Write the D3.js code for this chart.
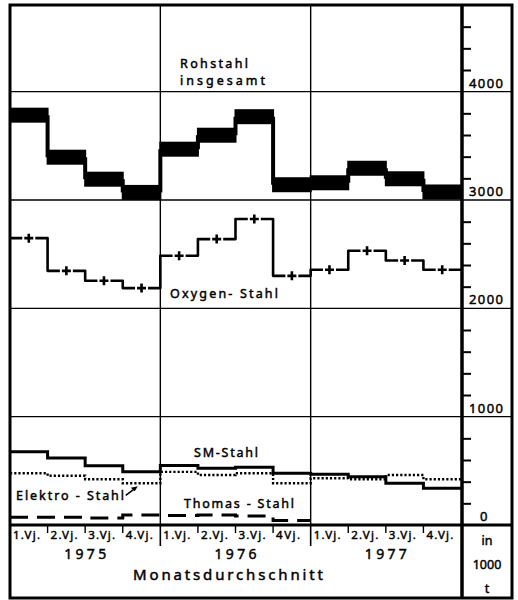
<!DOCTYPE html>
<html>
<head>
<meta charset="utf-8">
<script src="https://cdn.jsdelivr.net/npm/d3@7"></script>
<style>
html,body{margin:0;padding:0;background:#fff;}
svg{display:block;font-family:"Noto Sans","DejaVu Sans",sans-serif;}
svg text{stroke:#000;stroke-width:0.45px;}
</style>
</head>
<body>
<svg id="chart" width="518" height="600"></svg>
<script>
// ---- data ----
const years = ["1975", "1976", "1977"];
const quarterLabels = ["1.Vj.", "2.Vj.", "3.Vj.", "4.Vj.", "1.Vj.", "2.Vj.", "3.Vj.", "4Vj.", "1.Vj.", "2.Vj.", "3.Vj.", "4.Vj."];
const rohstahl = [3783, 3395, 3192, 3070, 3469, 3598, 3769, 3141, 3159, 3293, 3196, 3074];
const oxygen   = [2648, 2346, 2254, 2187, 2485, 2639, 2824, 2300, 2356, 2531, 2442, 2356];
const smStahl  = [677, 619, 548, 492, 550, 524, 533, 478, 468, 446, 385, 339];
const elektro  = [478, 455, 422, 385, 490, 462, 478, 385, 431, 422, 462, 422];
const thomas   = [71, 71, 65, 92, 88, 92, 83, 42];
const yLabelTicks = [0, 1000, 2000, 3000, 4000];
const yMinorTicks = [200, 400, 600, 800, 1200, 1400, 1600, 1800, 2200, 2400, 2600, 2800, 3200, 3400, 3600, 3800, 4200, 4400, 4600];
const unitLines = ["in", "1000", "t"];
const xTitle = "Monatsdurchschnitt";

// ---- layout ----
const L = 10, R = 461, T = 5, B = 525, RIGHT = 512, BOTTOM = 598;
const svg = d3.select("#chart");
const x = d3.scaleLinear().domain([0, 12]).range([L, R]);
const y = d3.scaleLinear().domain([0, 4800]).range([B, T]);
const cx = i => (x(i) + x(i + 1)) / 2;

// grid
const grid = svg.append("g").attr("stroke", "#000").attr("stroke-width", 1.4);
grid.selectAll("line.h").data(yLabelTicks.filter(v => v > 0)).join("line")
  .attr("x1", L).attr("x2", RIGHT).attr("y1", d => y(d)).attr("y2", d => y(d));
grid.selectAll("line.v").data([4, 8]).join("line")
  .attr("x1", d => x(d)).attr("x2", d => x(d)).attr("y1", T).attr("y2", B);

// minor ticks on right axis
const axis = svg.append("g").attr("transform", `translate(${R},0)`)
  .call(d3.axisRight(y).tickValues(yMinorTicks).tickSize(10).tickFormat(""));
axis.select(".domain").remove();
axis.selectAll(".tick line").attr("stroke", "#000").attr("stroke-width", 2);

// y labels
svg.append("g").selectAll("text").data(yLabelTicks).join("text")
  .attr("x", d => d ? 469 : 480).attr("y", d => y(d) - 4)
  .attr("font-size", 13)
  .attr("textLength", d => d ? 34 : 8).attr("lengthAdjust", "spacing")
  .text(d => d);

// frame
const frame = svg.append("g").attr("stroke", "#000").attr("fill", "none");
frame.append("rect").attr("x", L).attr("y", T).attr("width", RIGHT - L).attr("height", BOTTOM - T).attr("stroke-width", 3);
frame.append("line").attr("x1", R + 1).attr("x2", R + 1).attr("y1", T).attr("y2", BOTTOM).attr("stroke-width", 3.5);
frame.append("line").attr("x1", L).attr("x2", RIGHT).attr("y1", B).attr("y2", B).attr("stroke-width", 3);

// ---- Rohstahl band ----
const rg = svg.append("g");
rg.selectAll("rect").data(rohstahl).join("rect")
  .attr("x", (d, i) => x(i) - 1).attr("width", (d, i) => x(i + 1) - x(i) + 2)
  .attr("y", d => y(d) - 7.5).attr("height", 15).attr("fill", "#000");
rg.selectAll("line").data(rohstahl.slice(1)).join("line")
  .attr("x1", (d, i) => x(i + 1)).attr("x2", (d, i) => x(i + 1))
  .attr("y1", (d, i) => y(rohstahl[i])).attr("y2", d => y(d))
  .attr("stroke", "#000").attr("stroke-width", 4);

// ---- Oxygen ----
const gap = 6.5;
let op = `M${x(0)},${y(oxygen[0])}H${cx(0) - gap}`;
oxygen.forEach((v, i) => {
  op += `M${cx(i) + gap},${y(v)}H${x(i + 1)}`;
  if (i < oxygen.length - 1) op += `V${y(oxygen[i + 1])}H${cx(i + 1) - gap}`;
});
const og = svg.append("g");
og.append("path").attr("d", op).attr("fill", "none").attr("stroke", "#000")
  .attr("stroke-width", 2.6).attr("stroke-linejoin", "round");
og.selectAll("path.plus").data(oxygen).join("path").attr("class", "plus")
  .attr("d", (v, i) => `M${cx(i) - 4.5},${y(v)}H${cx(i) + 4.5}M${cx(i)},${y(v) - 4.5}V${y(v) + 4.5}`)
  .attr("stroke", "#000").attr("stroke-width", 2.6);

// step path helper
function stepPath(vals) {
  let p = `M${x(0)},${y(vals[0])}`;
  vals.forEach((v, i) => {
    p += `H${x(i + 1)}`;
    if (i < vals.length - 1) p += `V${y(vals[i + 1])}`;
  });
  return p;
}
svg.append("path").attr("d", stepPath(smStahl)).attr("fill", "none")
  .attr("stroke", "#000").attr("stroke-width", 3);
svg.append("path").attr("d", stepPath(elektro)).attr("fill", "none")
  .attr("stroke", "#000").attr("stroke-width", 2.4).attr("stroke-dasharray", "2.2,2");
svg.append("path").attr("d", stepPath(thomas)).attr("fill", "none")
  .attr("stroke", "#000").attr("stroke-width", 3).attr("stroke-dasharray", "18,9");

// ---- series labels ----
const labels = [
  {t: "Rohstahl", x: 180, y: 67.5, w: 68},
  {t: "insgesamt", x: 180, y: 85, w: 85},
  {t: "Oxygen- Stahl", x: 170, y: 298, w: 108},
  {t: "SM-Stahl", x: 194, y: 457, w: 64},
  {t: "Elektro - Stahl", x: 16, y: 500, w: 108},
  {t: "Thomas - Stahl", x: 184, y: 508, w: 110}
];
svg.append("g").selectAll("text").data(labels).join("text")
  .attr("x", d => d.x).attr("y", d => d.y).attr("font-size", 12.5)
  .attr("textLength", d => d.w).attr("lengthAdjust", "spacing").text(d => d.t);

// arrow for Elektro-Stahl
const ax2 = x(3) + 15, ay2 = y(elektro[3]) + 3;
svg.append("line").attr("x1", ax2 - 12).attr("y1", ay2 + 9).attr("x2", ax2 - 2).attr("y2", ay2 + 1.5)
  .attr("stroke", "#000").attr("stroke-width", 1.6);
svg.append("path").attr("d", `M${ax2},${ay2}L${ax2 - 7},${ay2 + 1.5}L${ax2 - 3},${ay2 + 5}Z`).attr("fill", "#000");

// ---- bottom labels ----
const bot = svg.append("g").attr("fill", "#000");
bot.selectAll("text.q").data(quarterLabels).join("text").attr("class", "q")
  .attr("x", (d, i) => x(i) + 3).attr("y", 539)
  .attr("font-size", 11.5).attr("textLength", d => d.length === 5 ? 27 : 24).attr("lengthAdjust", "spacing")
  .text(d => d);
bot.selectAll("line.qt").data(d3.range(1, 12).filter(i => i % 4)).join("line")
  .attr("x1", d => x(d)).attr("x2", d => x(d)).attr("y1", B).attr("y2", 533)
  .attr("stroke", "#000").attr("stroke-width", 1.4);
bot.selectAll("line.yt").data([4, 8]).join("line")
  .attr("x1", d => x(d)).attr("x2", d => x(d)).attr("y1", B).attr("y2", 546)
  .attr("stroke", "#000").attr("stroke-width", 1.6);
bot.selectAll("text.y").data(years).join("text").attr("class", "y")
  .attr("x", (d, i) => (x(i * 4) + x(i * 4 + 4)) / 2 - 21).attr("y", 558.5)
  .attr("font-size", 14).attr("textLength", 42).attr("lengthAdjust", "spacing").text(d => d);
bot.append("text").attr("x", 133).attr("y", 580)
  .attr("font-size", 15).attr("textLength", 190).attr("lengthAdjust", "spacing").text(xTitle);
bot.selectAll("text.u").data(unitLines).join("text").attr("class", "u")
  .attr("x", 487).attr("y", (d, i) => 545 + i * 24).attr("text-anchor", "middle")
  .attr("font-size", 12.5).text(d => d);
</script>
</body>
</html>
